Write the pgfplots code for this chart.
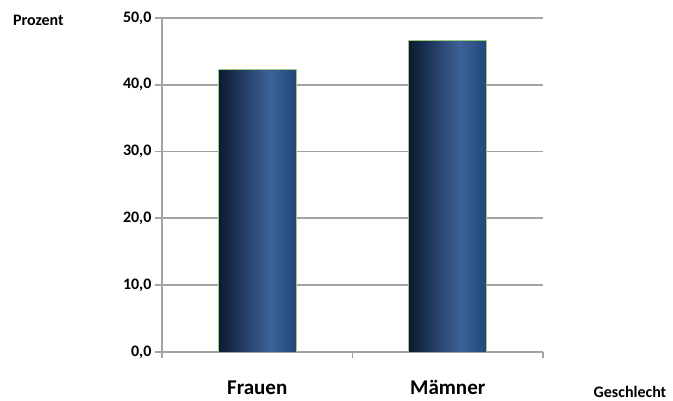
\documentclass[border=0pt]{standalone}
\usepackage{pgfplots}
\pgfplotsset{compat=1.18}
\usepackage{fontspec}
\setmainfont{Carlito}
\definecolor{gridgray}{HTML}{A3A3A3}
\definecolor{bardark}{HTML}{0C1A31}
\definecolor{barlight}{HTML}{3C6399}
\definecolor{barright}{HTML}{22457A}
\definecolor{baredge}{HTML}{9CCB7C}
\pgfdeclarehorizontalshading{barshade}{100bp}{color(0bp)=(bardark); color(25bp)=(bardark); color(58bp)=(barlight); color(75bp)=(barright); color(100bp)=(barright)}
\begin{document}
\begin{tikzpicture}[x=1pt,y=1pt]
\useasboundingbox (0,0) rectangle (673,401);
\begin{axis}[
  at={(162pt,49pt)}, anchor=south west,
  scale only axis, width=381pt, height=334pt,
  xmin=-0.5, xmax=1.5, ymin=0, ymax=50,
  axis x line*=bottom, axis y line*=left,
  axis line style={gridgray, line width=1.6pt},
  ytick={0,10,...,50},
  ymajorgrids, grid style={gridgray, line width=1.8pt},
  xtick={0,1}, xticklabels={Frauen, Mämner},
  minor xtick={-0.5,0.5,1.5},
  major x tick style={draw=none},
  minor x tick style={gridgray, line width=1.6pt},
  minor tick length=6pt,
  major tick length=7pt,
  tick align=outside,
  y tick style={gridgray, line width=1.8pt},
  xticklabel style={font=\bfseries\fontsize{21}{24}\selectfont, yshift=-18pt},
  yticklabel style={font=\bfseries\fontsize{16}{18}\selectfont},
  /pgf/number format/assume math mode=true,
  yticklabel={\pgfmathprintnumber[fixed, fixed zerofill, precision=1, use comma]{\tick}},
  ybar, bar width=78pt, bar shift=0pt,
]
\addplot[draw=baredge, line width=0.9pt, shading=barshade] coordinates {(0,42.3)};
\addplot[draw=baredge, line width=0.9pt, shading=barshade] coordinates {(1,46.6)};
\end{axis}
\node[anchor=west, font=\bfseries\fontsize{16}{18}\selectfont, inner sep=0pt] at (13,381) {Prozent};
\node[font=\bfseries\fontsize{16}{18}\selectfont, inner sep=0pt] at (630,9) {Geschlecht};
\end{tikzpicture}
\end{document}
